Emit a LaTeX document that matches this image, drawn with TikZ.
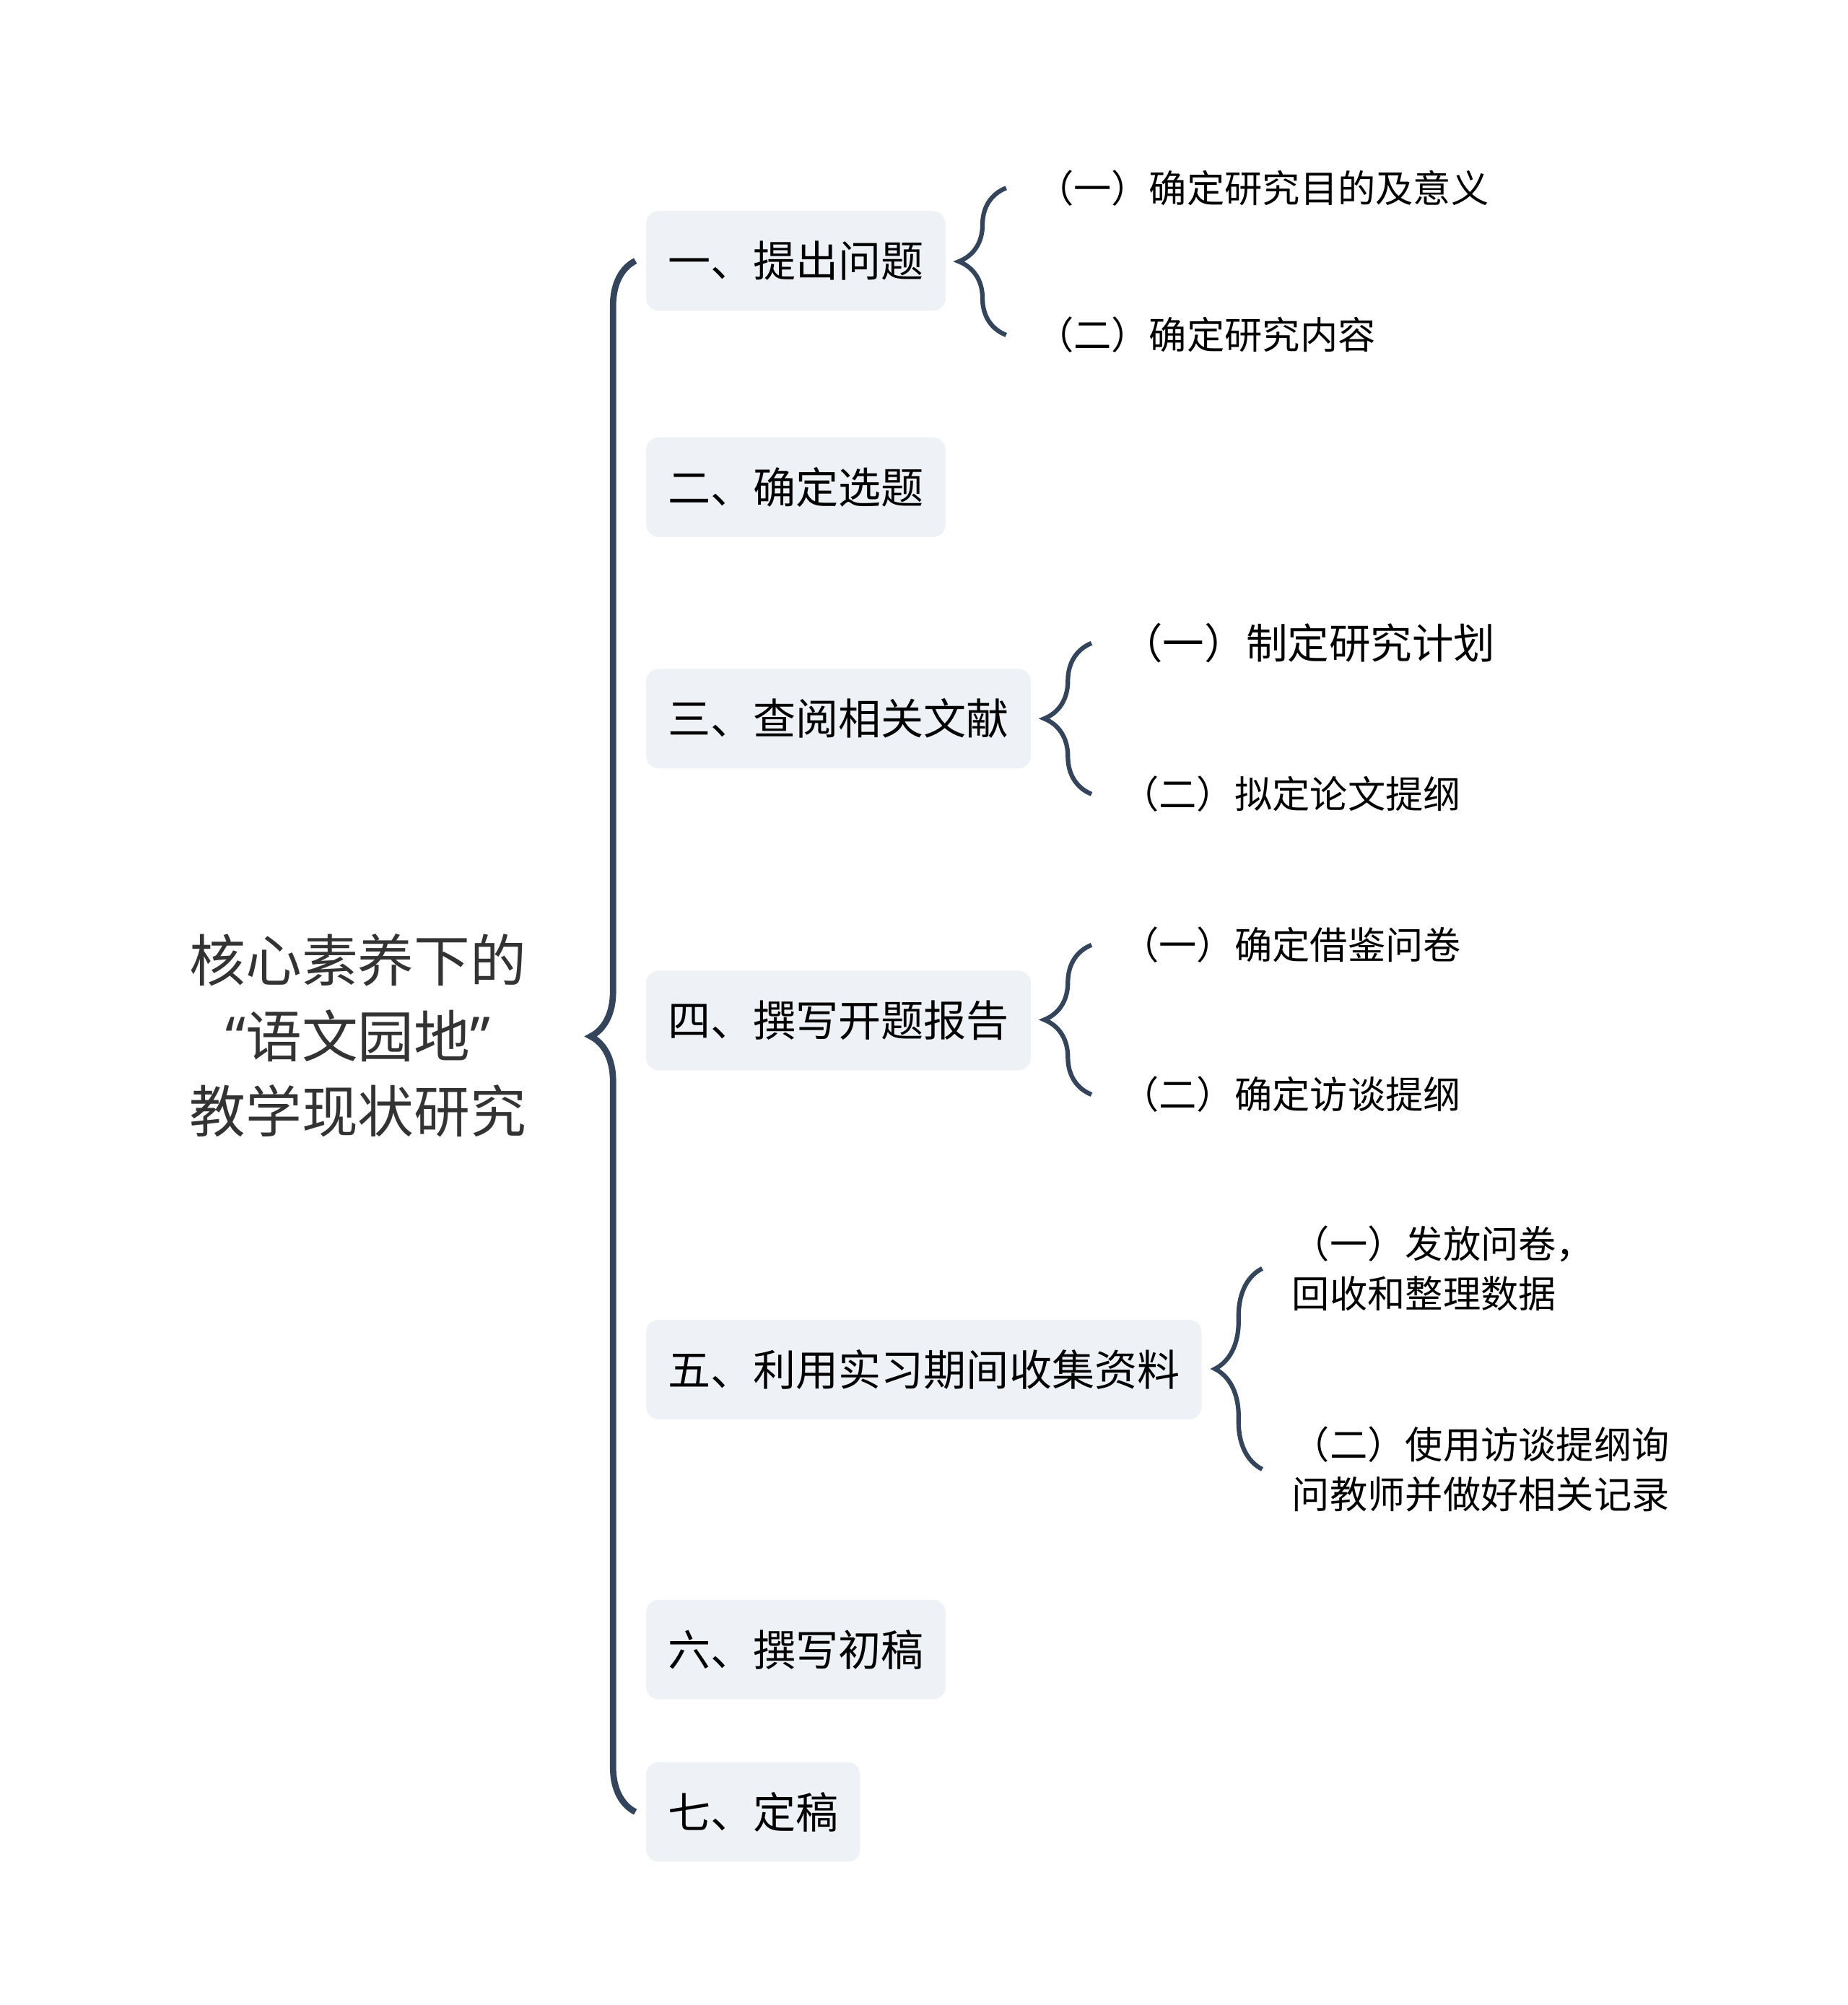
\documentclass[tikz,border=0pt]{standalone}
\usepackage{fontspec}
\newfontfamily\cjk{Noto Sans CJK SC}
\newfontfamily\latin{Noto Sans}
\usetikzlibrary{calc,decorations.pathreplacing}
\definecolor{trait}{RGB}{52,68,90}
\definecolor{fond}{RGB}{238,241,245}
\definecolor{texte}{RGB}{51,51,51}

\begin{document}
\begin{tikzpicture}[
    x=0.02cm, y=-0.02cm, % Unités en pixels, y vers le bas
    % Styles des noeuds
    racine/.style={align=center, text=texte, font=\cjk\fontsize{25pt}{33.6pt}\selectfont},
    etape/.style={anchor=west, fill=fond, rounded corners=0.2cm, inner xsep=0.34cm,
        inner ysep=0pt, minimum height=1.56cm, font=\cjk\fontsize{19pt}{23pt}\selectfont},
    detail/.style={anchor=west, inner sep=0pt, align=left, font=\cjk\fontsize{16.8pt}{22.2pt}\selectfont},
    % Accolades
    tronc/.style={draw=trait, line width=2.8pt, decorate, decoration={brace, amplitude=0.7cm}},
    accolade/.style={draw=trait, line width=2pt, decorate, decoration={brace, amplitude=0.74cm}}
]
\useasboundingbox (0,0) rectangle (1445,1568);

% Racine
\node[racine] (racine) at (280,810) {核心素养下的\\{\latin “}语文园地{\latin ”}\\教学现状研究};

% Etapes
\node[etape] (e1) at (505,204) {一、提出问题};
\node[etape] (e2) at (505,381) {二、确定选题};
\node[etape] (e3) at (505,562) {三、查阅相关文献};
\node[etape] (e4) at (505,798) {四、撰写开题报告};
\node[etape] (e5) at (505,1071) {五、利用实习期间收集资料};
\node[etape] (e6) at (505,1290) {六、撰写初稿};
\node[etape] (e7) at (505,1417) {七、定稿};

% Details
\node[detail] (d11) at ($(e1.east)+(70,-57)$) {（一）确定研究目的及意义};
\node[detail] (d12) at ($(e1.east)+(70,58)$) {（二）确定研究内容};
\node[detail, font=\cjk\fontsize{18.5pt}{22pt}\selectfont] (d31) at ($(e3.east)+(70,-59)$) {（一）制定研究计划};
\node[detail] (d32) at ($(e3.east)+(70,59)$) {（二）拟定论文提纲};
\node[detail] (d41) at ($(e4.east)+(70,-59)$) {（一）确定借鉴问卷};
\node[detail] (d42) at ($(e4.east)+(70,58)$) {（二）确定访谈提纲};
\node[detail] (d51) at ($(e5.east)+(70,-79)$) {（一）发放问卷，\\回收和整理数据};
\node[detail] (d52) at ($(e5.east)+(70,78)$) {（二）使用访谈提纲询\\问教师并做好相关记录};

% Accolades
\draw[tronc] ($(e7.west)+(-8,0)$) -- ($(e1.west)+(-8,0)$);
\draw[accolade] ($(d12.west)+(-23,0)$) -- ($(d11.west)+(-23,0)$);
\draw[accolade] ($(d32.west)+(-23,0)$) -- ($(d31.west)+(-23,0)$);
\draw[accolade] ($(d42.west)+(-23,0)$) -- ($(d41.west)+(-23,0)$);
\draw[accolade] ($(d52.west)+(-23,0)$) -- ($(d51.west)+(-23,0)$);
\end{tikzpicture}
\end{document}
